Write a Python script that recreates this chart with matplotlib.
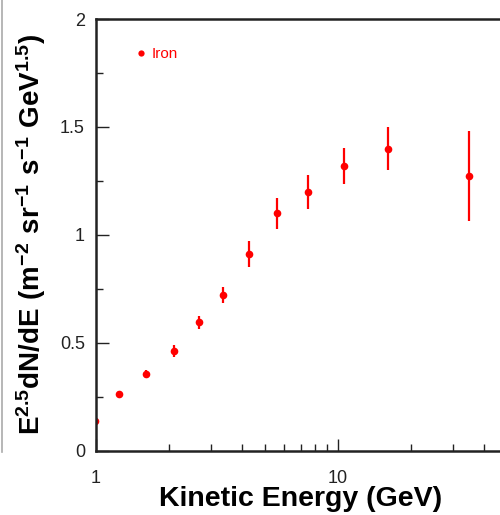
import matplotlib
matplotlib.use("Agg")
import matplotlib.pyplot as plt
from matplotlib.lines import Line2D
from matplotlib.ticker import FixedLocator, NullFormatter, FixedFormatter

plt.rcParams['font.family'] = ['Liberation Sans', 'DejaVu Sans']
plt.rcParams['mathtext.fontset'] = 'custom'
plt.rcParams['mathtext.rm'] = 'Liberation Sans'
plt.rcParams['mathtext.bf'] = 'Liberation Sans:bold'

# Iron spectrum, E^2.5 dN/dE vs kinetic energy
energy = [0.99, 1.245, 1.61, 2.10, 2.66, 3.35, 4.29, 5.60, 7.52, 10.6, 16.1, 34.8]
flux = [0.14, 0.264, 0.356, 0.463, 0.597, 0.722, 0.912, 1.10, 1.20, 1.32, 1.40, 1.273]
flux_err = [0.03, 0.012, 0.02, 0.027, 0.03, 0.035, 0.06, 0.07, 0.08, 0.083, 0.10, 0.21]

y_major = [0, 0.5, 1, 1.5, 2]
y_major_labels = ['0', '0.5', '1', '1.5', '2']
y_minor = [0.25, 0.75, 1.25, 1.75]
x_major = [1, 10]
x_major_labels = ['1', '10']
x_minor = [2, 3, 4, 5, 6, 7, 8, 9, 20, 30, 40, 50]

fig = plt.figure(figsize=(5, 5.15), dpi=100)
# axes runs past the right edge of the figure, like the cropped original
ax = fig.add_axes([0.192, 0.1243, 0.8606, 0.8388])

ax.errorbar(energy, flux, yerr=flux_err, fmt='o', color='red', ms=5.5,
            elinewidth=1.6, capsize=0, mec='red', mew=0)

ax.set_xscale('log')
ax.set_xlim(1, 60)
ax.set_ylim(0, 2)

ax.xaxis.set_major_locator(FixedLocator(x_major))
ax.xaxis.set_major_formatter(FixedFormatter(x_major_labels))
ax.xaxis.set_minor_locator(FixedLocator(x_minor))
ax.xaxis.set_minor_formatter(NullFormatter())
ax.yaxis.set_major_locator(FixedLocator(y_major))
ax.yaxis.set_major_formatter(FixedFormatter(y_major_labels))
ax.yaxis.set_minor_locator(FixedLocator(y_minor))

ax.tick_params(which='major', direction='in', length=9, width=1.0,
               labelsize=13, pad=12, colors='#222222')
ax.tick_params(which='minor', direction='in', length=5, width=1.0, colors='#222222')
ax.tick_params(axis='x', which='major', pad=14)
ax.tick_params(axis='y', which='major', pad=8)

for side in ['top', 'left', 'bottom', 'right']:
    ax.spines[side].set_linewidth(1.8)
    ax.spines[side].set_color('#222222')

# legend inside the plot
handles = [Line2D([0], [0], marker='o', linestyle='None', color='red',
                  markersize=4.5, markeredgewidth=0, label='Iron')]
ax.legend(handles=handles, loc='upper left', bbox_to_anchor=(0.055, 0.967),
          frameon=False, labelcolor='red', fontsize=11, handletextpad=0.2,
          handlelength=1.0)

fig.text(0.602, 0.0175, 'Kinetic Energy (GeV)', ha='center', va='baseline',
         fontsize=20.5, fontweight='bold')
fig.text(0.062, 0.544,
         r'$\mathbf{E^{2.5}dN/dE\ (m^{-2}\ sr^{-1}\ s^{-1}\ GeV^{1.5})}$',
         ha='center', va='center', rotation=90, fontsize=20)

# thin grey frame edge on the far left
fig.add_artist(Line2D([0.003, 0.003], [0.122, 1.0], transform=fig.transFigure,
                      color='#aaaaaa', lw=1.2))

fig.savefig('out.png', dpi=100)
